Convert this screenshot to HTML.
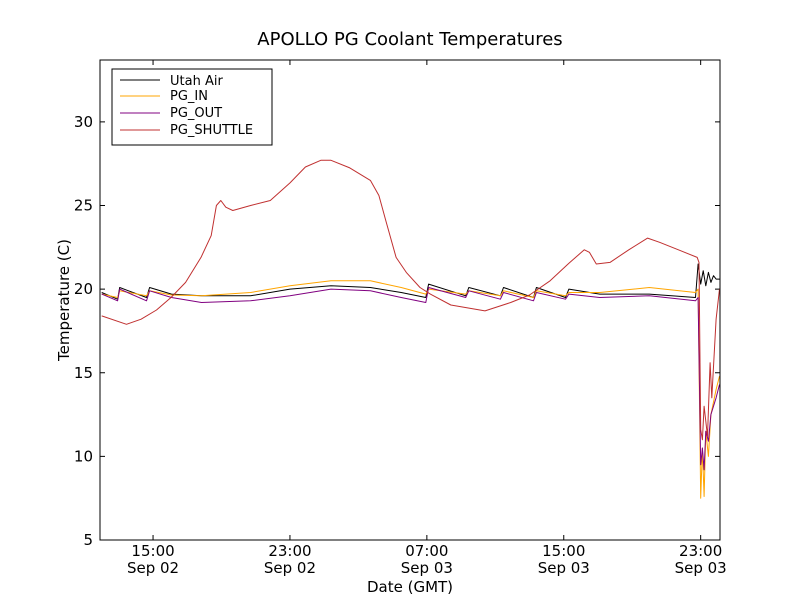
<!DOCTYPE html>
<html><head><meta charset="utf-8"><style>
body{margin:0;background:#fff;}
svg{display:block;font-family:"DejaVu Sans","Liberation Sans",sans-serif;}
</style></head><body>
<svg id="chart" width="800" height="600" xmlns="http://www.w3.org/2000/svg">
<rect width="800" height="600" fill="#fff"/>
<text x="410" y="45" font-size="18" text-anchor="middle">APOLLO PG Coolant Temperatures</text>
<g id="plot"></g>
<rect x="100" y="60" width="620" height="480" fill="none" stroke="#000" stroke-width="1"/>
<text x="410" y="592" font-size="15" text-anchor="middle">Date (GMT)</text>
<text transform="translate(69,300) rotate(-90)" font-size="15" text-anchor="middle">Temperature (C)</text>
<g>
<rect x="112" y="69" width="160" height="76" fill="#fff" stroke="#000"/>
<line x1="120" y1="80" x2="160" y2="80" stroke="#000"/>
<text x="170" y="85" font-size="13">Utah Air</text>
<line x1="120" y1="96" x2="160" y2="96" stroke="#ffa500"/>
<text x="170" y="100" font-size="13">PG_IN</text>
<line x1="120" y1="113" x2="160" y2="113" stroke="#800080"/>
<text x="170" y="117" font-size="13">PG_OUT</text>
<line x1="120" y1="130" x2="160" y2="130" stroke="#c03030"/>
<text x="170" y="134" font-size="13">PG_SHUTTLE</text>
</g>
</svg>
<script>
// hours since 12:00 Sep 02
const yTicks=[5,10,15,20,25,30];
const xTickHours=[3,11,19,27,35];
const xTickTimes=["15:00","23:00","07:00","15:00","23:00"];
const xTickDates=["Sep 02","Sep 02","Sep 03","Sep 03","Sep 03"];
const shuttleT=[0,1.45,2.3,3.2,4.05,4.9,5.8,6.4,6.7,6.96,7.25,7.66,8.7,9.85,11,11.9,12.8,13.4,14.5,15.7,16.2,16.6,17.2,17.8,18.6,19.2,20.4,22.4,23.9,25,26.2,27.3,28.2,28.5,28.9,29.7,30.8,31.9,32.6,33.7,34.8,34.9,35.0,35.1,35.2,35.4,35.55,35.65,35.9,36.1];
const shuttleV=[18.4,17.9,18.2,18.75,19.5,20.4,21.9,23.2,25.0,25.3,24.9,24.7,25.0,25.3,26.35,27.3,27.7,27.7,27.25,26.5,25.6,24.1,21.9,21.0,20.1,19.7,19.05,18.7,19.2,19.65,20.5,21.55,22.35,22.2,21.5,21.6,22.35,23.05,22.8,22.35,21.9,21.6,11.6,11.0,13.0,11.2,15.6,13.5,18.2,20.0];
const airT=[0,0.93,1.05,2.62,2.8,4.08,5.83,8.7,11.0,13.4,15.7,17.5,18.94,19.1,21.27,21.45,23.3,23.48,25.23,25.4,27.1,27.3,29.1,32.0,34.7,34.85,35.0,35.15,35.3,35.45,35.6,35.75,35.9,36.1];
const airV=[19.8,19.4,20.1,19.5,20.1,19.7,19.6,19.6,20.0,20.2,20.1,19.8,19.5,20.3,19.6,20.1,19.6,20.1,19.5,20.1,19.5,20.0,19.7,19.7,19.5,21.5,20.3,21.1,20.2,21.0,20.4,20.8,20.6,20.6];
const inT=[0,0.93,1.05,2.62,2.8,4.08,5.83,8.7,11.0,13.4,15.7,17.5,18.94,19.1,21.27,21.45,23.3,23.48,25.23,25.4,27.1,27.3,29.1,32.0,34.7,34.85,35.0,35.1,35.2,35.3,35.45,35.6,35.9,36.1];
const inV=[19.7,19.5,19.9,19.6,19.9,19.65,19.6,19.8,20.2,20.5,20.5,20.1,19.7,20.0,19.7,19.9,19.6,19.9,19.5,19.9,19.6,19.8,19.8,20.1,19.8,20.0,7.5,10.5,7.6,11.5,10.0,12.5,14.0,14.8];
const outT=[0,0.93,1.05,2.62,2.8,4.08,5.83,8.7,11.0,13.4,15.7,17.5,18.94,19.1,21.27,21.45,23.3,23.48,25.23,25.4,27.1,27.3,29.1,32.0,34.7,34.85,35.0,35.1,35.2,35.3,35.45,35.6,35.9,36.1];
const outV=[19.7,19.3,20.0,19.3,19.9,19.5,19.2,19.3,19.6,20.0,19.9,19.5,19.2,20.1,19.5,19.9,19.4,19.8,19.3,19.8,19.4,19.7,19.5,19.6,19.3,19.5,9.5,10.5,9.2,11.5,10.9,12.5,13.5,14.3];

const X0=100,X1=720,Y0=540,Y1=60,TMIN=-0.1,TMAX=36.13,VMIN=5,VMAX=33.7;
function xs(t){return X0+(t-TMIN)/(TMAX-TMIN)*(X1-X0);}
function ys(v){return Y0-(v-VMIN)/(VMAX-VMIN)*(Y0-Y1);}
const NS="http://www.w3.org/2000/svg";
const plot=document.getElementById('plot');
function mk(tag,attrs){const e=document.createElementNS(NS,tag);for(const k in attrs)e.setAttribute(k,attrs[k]);return e;}
yTicks.forEach(v=>{
  const y=ys(v);
  const g=mk('g',{});
  
  
  g.appendChild(mk('line',{x1:X0,y1:y,x2:X0+5,y2:y,stroke:'#000'}));
  g.appendChild(mk('line',{x1:X1,y1:y,x2:X1-5,y2:y,stroke:'#000'}));
  const t=mk('text',{x:X0-7,y:y+5,'font-size':15,'text-anchor':'end'});t.textContent=v;g.appendChild(t);
  plot.appendChild(g);
});
xTickHours.forEach((h,i)=>{
  const x=xs(h);
  const g=mk('g',{});
  
  
  g.appendChild(mk('line',{x1:x,y1:Y0,x2:x,y2:Y0-5,stroke:'#000'}));
  g.appendChild(mk('line',{x1:x,y1:Y1,x2:x,y2:Y1+5,stroke:'#000'}));
  const a=mk('text',{x:x,y:556,'font-size':15,'text-anchor':'middle'});a.textContent=xTickTimes[i];g.appendChild(a);
  const b=mk('text',{x:x,y:573,'font-size':15,'text-anchor':'middle'});b.textContent=xTickDates[i];g.appendChild(b);
  plot.appendChild(g);
});
function line(T,V,color,name){
  const p=mk('polyline',{points:T.map((t,i)=>xs(t).toFixed(1)+','+ys(V[i]).toFixed(1)).join(' '),fill:'none',stroke:color,'stroke-width':1,'stroke-linejoin':'round'});
  
  
  plot.appendChild(p);
}
line(airT,airV,'#000','utah-air-line');
line(inT,inV,'#ffa500','pg-in-line');
line(outT,outV,'#800080','pg-out-line');
line(shuttleT,shuttleV,'#c03030','pg-shuttle-line');
</script>
</body></html>
